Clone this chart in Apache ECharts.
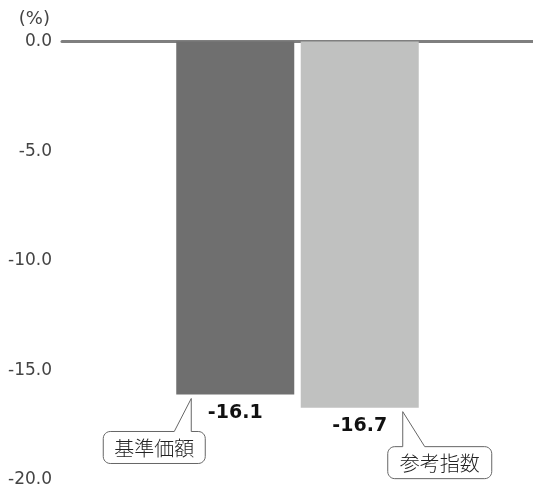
<!DOCTYPE html>
<html>
<head>
<meta charset="utf-8">
<script src="https://cdn.jsdelivr.net/npm/echarts@6/dist/echarts.min.js"></script>
<style>
  html, body { margin: 0; padding: 0; background: #fff; }
  #chart { width: 533px; height: 491px; }
</style>
</head>
<body>
<div id="chart"></div>
<script>
// Return comparison: fund NAV vs. reference index (%)
const seriesNames = ['基準価額', '参考指数'];
const seriesValues = [-16.1, -16.7];
const seriesColors = ['#6f6f6f', '#c0c1c0'];
const yTicks = { min: -20, max: 0, interval: 5 };
const unitLabel = '(%)';

const FONT = '"DejaVu Sans", "Noto Sans CJK JP", sans-serif';
const CJK_FONT = '"Noto Sans CJK JP", sans-serif';

const chart = echarts.init(document.getElementById('chart'), null, { renderer: 'canvas' });

const series = seriesNames.map((name, i) => ({
  name,
  type: 'bar',
  data: [seriesValues[i]],
  barWidth: 118,
  barGap: '5.5%',
  itemStyle: { color: seriesColors[i] },
  label: {
    show: true,
    position: 'bottom',
    distance: 9,
    formatter: p => p.value.toFixed(1),
    color: '#111',
    fontFamily: FONT,
    fontWeight: 'bold',
    fontSize: 19
  }
}));

chart.setOption({
  animation: false,
  grid: { left: 62, right: -4, top: 41.5, bottom: 11, containLabel: false },
  xAxis: {
    type: 'category',
    data: [''],
    axisLine: { onZero: true, lineStyle: { color: '#7f7f7f', width: 3 } },
    axisTick: { show: false },
    axisLabel: { show: false }
  },
  yAxis: {
    type: 'value',
    min: yTicks.min,
    max: yTicks.max,
    interval: yTicks.interval,
    name: unitLabel,
    nameLocation: 'end',
    nameGap: 13,
    nameTextStyle: { color: '#444', fontFamily: FONT, fontSize: 18, align: 'right', padding: [0, 12, 0, 0] },
    axisLine: { show: false },
    axisTick: { show: false },
    splitLine: { show: false },
    axisLabel: {
      color: '#444',
      fontFamily: FONT,
      fontSize: 17,
      margin: 10,
      padding: [4, 0, 0, 0],
      formatter: v => v.toFixed(1)
    }
  },
  series
});

// Outline of a rounded box with a pointer rising from its top edge
function calloutPoints(bx, by, bw, bh, r, baseL, baseR, tipX, tipY) {
  const pts = [];
  const arc = (cx, cy, a0, a1) => {
    const n = 6;
    for (let k = 0; k <= n; k++) {
      const a = a0 + (a1 - a0) * k / n;
      pts.push([cx + r * Math.cos(a), cy + r * Math.sin(a)]);
    }
  };
  arc(bx + r, by + r, Math.PI, 1.5 * Math.PI);          // top-left
  pts.push([baseL, by], [tipX, tipY], [baseR, by]);       // pointer
  arc(bx + bw - r, by + r, 1.5 * Math.PI, 2 * Math.PI);   // top-right
  arc(bx + bw - r, by + bh - r, 0, 0.5 * Math.PI);        // bottom-right
  arc(bx + r, by + bh - r, 0.5 * Math.PI, Math.PI);       // bottom-left
  return pts;
}

function addCallouts() {
  const elements = [];
  // callout geometry relative to each bar's bottom-left corner
  const specs = [
    { boxDx: -73, boxDy: 37, boxW: 102, tipDx: 15, baseL: -2, baseR: 15 },
    { boxDx: 87, boxDy: 39, boxW: 104, tipDx: 102, baseL: 102, baseR: 124 }
  ];
  seriesNames.forEach((name, i) => {
    const layout = chart.getModel().getSeriesByIndex(i).getData().getItemLayout(0);
    const left = layout.x;
    const bottom = layout.y + layout.height;
    const s = specs[i];
    const bx = left + s.boxDx;
    const by = bottom + s.boxDy;
    const bh = 32;
    elements.push({
      type: 'polygon',
      shape: {
        points: calloutPoints(bx, by, s.boxW, bh, 7, left + s.baseL, left + s.baseR, left + s.tipDx, bottom + 4)
      },
      style: { fill: '#fff', stroke: '#666', lineWidth: 1 },
      z: 10
    });
    elements.push({
      type: 'text',
      x: bx + s.boxW / 2,
      y: by + bh / 2 + 1,
      style: {
        text: name,
        fill: '#222',
        font: '300 20px ' + CJK_FONT,
        align: 'center',
        verticalAlign: 'middle'
      },
      z: 11
    });
  });
  chart.setOption({ graphic: elements });
}
addCallouts();
</script>
</body>
</html>
